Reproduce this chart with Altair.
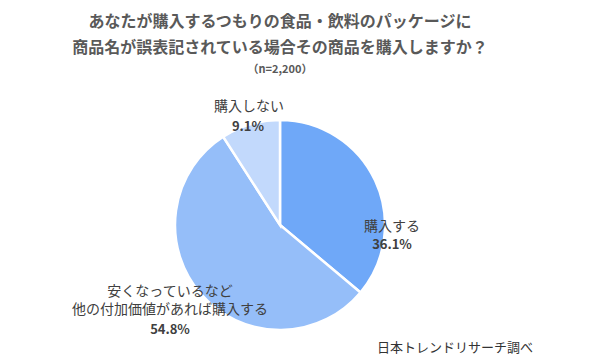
import altair as alt
import pandas as pd

categories = ["購入する", "安くなっているなど\n他の付加価値があれば購入する", "購入しない"]
values = [36.1, 54.8, 9.1]
pct_labels = ["36.1%", "54.8%", "9.1%"]
colors = ["#6fa8f8", "#95bef9", "#c2d9fc"]

title_lines = ["あなたが購入するつもりの食品・飲料のパッケージに",
               "商品名が誤表記されている場合その商品を購入しますか？"]
subtitle = "（n=2,200）"
source = "日本トレンドリサーチ調べ"

FONT = "Noto Sans CJK JP"
CX, CY, R = 280, 225, 105

df = pd.DataFrame({"category": categories, "value": values, "idx": range(len(values)),
                   "pct": pct_labels})

pie = alt.Chart(df).mark_arc(outerRadius=R, stroke="white", strokeWidth=2.5).encode(
    theta=alt.Theta("value:Q", stack=True),
    color=alt.Color("category:N", scale=alt.Scale(domain=categories, range=colors), legend=None),
    order=alt.Order("idx:Q"),
    x=alt.value(CX), y=alt.value(CY),
)

def text_layer(df_t, x, y, size, bold=False, color="#404040"):
    return alt.Chart(df_t).mark_text(
        font=FONT, fontSize=size, fontWeight="bold" if bold else "normal",
        color=color, align="center", baseline="middle", lineBreak="\n", lineHeight=18,
    ).encode(text="t:N", x=alt.value(x), y=alt.value(y))

def one(s):
    return pd.DataFrame({"t": [s]})

layers = [pie]
# title
layers.append(text_layer(one(title_lines[0]), 280, 22, 16, True, "#595959"))
layers.append(text_layer(one(title_lines[1]), 280, 48, 16, True, "#595959"))
layers.append(text_layer(one(subtitle), 280, 70, 11, True, "#595959"))

# slice labels (category + percent)
cat_pos = [(392, 227), (170, 292), (249, 107)]
pct_pos = [(392, 245), (170, 330), (248, 127)]
for i in range(len(categories)):
    layers.append(text_layer(df.iloc[[i]].assign(t=df["category"].iloc[i]), cat_pos[i][0], cat_pos[i][1], 14))
    layers.append(text_layer(df.iloc[[i]].assign(t=df["pct"].iloc[i]), pct_pos[i][0], pct_pos[i][1], 13, True))

layers.append(text_layer(one(source), 455, 348, 13, False, "#333333"))

chart = alt.layer(*layers).properties(
    width=590, height=358, padding=0,
    autosize=alt.AutoSizeParams(type="none"),
).configure_view(stroke=None)

chart.save("out.html", embed_options={"renderer": "svg", "actions": False})
